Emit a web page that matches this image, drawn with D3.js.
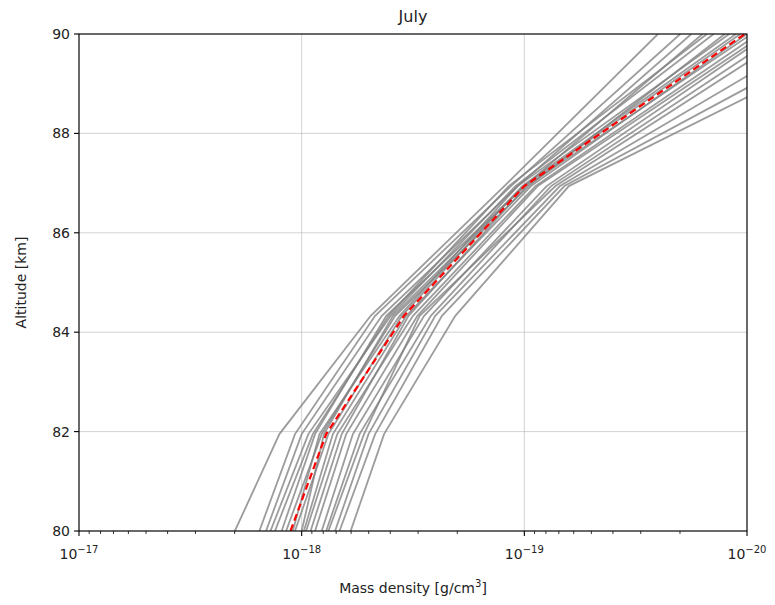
<!DOCTYPE html>
<html>
<head>
<meta charset="utf-8">
<script src="https://cdn.jsdelivr.net/npm/d3@7"></script>
<style>
  body { margin: 0; background: #fff; }
  svg { font-family: "DejaVu Sans", sans-serif; }
</style>
</head>
<body>
<svg id="chart" width="775" height="605"></svg>
<script>
// altitude levels of the profiles [km]
const altitudes = [80, 81.95, 84.33, 86.94, 90];
// log10 of mass density [g/cm3] at each altitude, one row per profile
const profiles = [
  [-17.70, -17.90, -18.31, -18.91, -19.60],
  [-17.81, -17.97, -18.33, -18.94, -19.70],
  [-17.84, -18.00, -18.36, -18.97, -19.75],
  [-17.86, -18.03, -18.40, -18.96, -19.85],
  [-17.88, -18.05, -18.39, -18.93, -19.82],
  [-17.91, -18.06, -18.38, -19.00, -19.80],
  [-17.93, -18.09, -18.42, -19.02, -19.90],
  [-17.96, -18.08, -18.44, -18.97, -19.92],
  [-17.97, -18.12, -18.45, -18.99, -19.95],
  [-18.00, -18.10, -18.41, -19.00, -19.97],
  [-18.01, -18.14, -18.47, -19.03, -20.00],
  [-18.02, -18.16, -18.50, -19.05, -20.05],
  [-18.04, -18.18, -18.48, -19.01, -20.02],
  [-18.06, -18.20, -18.52, -19.06, -20.08],
  [-18.09, -18.23, -18.55, -19.10, -20.10],
  [-18.11, -18.26, -18.58, -19.12, -20.15],
  [-18.12, -18.28, -18.53, -19.14, -20.20],
  [-18.15, -18.30, -18.60, -19.16, -20.32],
  [-18.17, -18.33, -18.63, -19.18, -20.45],
  [-18.22, -18.37, -18.69, -19.20, -20.57]
];
// mean profile (red dashed)
const meanProfile = [-17.95, -18.11, -18.46, -19.00, -19.99];
const xMajor = [1e-17, 1e-18, 1e-19, 1e-20];
const yTicks = [80, 82, 84, 86, 88, 90];

const svg = d3.select("#chart");
const margin = { top: 34, right: 28, bottom: 74, left: 79 };
const width = 775, height = 605;

const x = d3.scaleLog()
  .domain([1e-17, 1e-20])
  .range([margin.left, width - margin.right]);
const y = d3.scaleLinear()
  .domain([80, 90])
  .range([height - margin.bottom, margin.top]);

svg.append("defs").append("clipPath").attr("id", "clip")
  .append("rect")
  .attr("x", margin.left).attr("y", margin.top)
  .attr("width", width - margin.left - margin.right)
  .attr("height", height - margin.top - margin.bottom);

// grid
const grid = svg.append("g").attr("stroke", "#b0b0b0").attr("stroke-width", 0.8).attr("stroke-opacity", 0.7);
grid.selectAll(".gx").data(xMajor).join("line")
  .attr("x1", d => x(d)).attr("x2", d => x(d))
  .attr("y1", margin.top).attr("y2", height - margin.bottom);
grid.selectAll(".gy").data(yTicks).join("line")
  .attr("y1", d => y(d)).attr("y2", d => y(d))
  .attr("x1", margin.left).attr("x2", width - margin.right);

const line = d3.line()
  .x(d => x(Math.pow(10, d[1])))
  .y(d => y(d[0]));

const plot = svg.append("g").attr("clip-path", "url(#clip)");
plot.selectAll(".profile").data(profiles).join("path")
  .attr("fill", "none")
  .attr("stroke", "#808080")
  .attr("stroke-opacity", 0.78)
  .attr("stroke-width", 1.8)
  .attr("d", p => line(altitudes.map((a, i) => [a, p[i]])));

plot.append("path")
  .attr("fill", "none")
  .attr("stroke", "red")
  .attr("stroke-width", 2.2)
  .attr("stroke-dasharray", "7,4")
  .attr("d", line(altitudes.map((a, i) => [a, meanProfile[i]])));

// frame
svg.append("rect")
  .attr("x", margin.left).attr("y", margin.top)
  .attr("width", width - margin.left - margin.right)
  .attr("height", height - margin.top - margin.bottom)
  .attr("fill", "none").attr("stroke", "#000").attr("stroke-width", 1.1);

// x axis
const minor = x.ticks().filter(t => !xMajor.some(m => Math.abs(m - t) / m < 1e-6));
const xAxis = svg.append("g").attr("transform", `translate(0,${height - margin.bottom})`);
xAxis.selectAll(".major").data(xMajor).join("line")
  .attr("x1", d => x(d)).attr("x2", d => x(d))
  .attr("y1", 0).attr("y2", 5).attr("stroke", "#000").attr("stroke-width", 1.1);
xAxis.selectAll(".minor").data(minor).join("line")
  .attr("x1", d => x(d)).attr("x2", d => x(d))
  .attr("y1", 0).attr("y2", 3).attr("stroke", "#000").attr("stroke-width", 0.8);
const xl = xAxis.selectAll(".lab").data(xMajor).join("text")
  .attr("x", d => x(d)).attr("y", 28)
  .attr("text-anchor", "middle")
  .attr("font-size", 14).attr("fill", "#222");
xl.append("tspan").text("10");
xl.append("tspan").attr("dy", -6).attr("font-size", 10)
  .text(d => "\u2212" + Math.round(-Math.log10(d)));

// y axis
const yAxis = svg.append("g");
yAxis.selectAll("line").data(yTicks).join("line")
  .attr("x1", margin.left - 5).attr("x2", margin.left)
  .attr("y1", d => y(d)).attr("y2", d => y(d))
  .attr("stroke", "#000").attr("stroke-width", 1.1);
yAxis.selectAll("text").data(yTicks).join("text")
  .attr("x", margin.left - 9).attr("y", d => y(d))
  .attr("dy", "0.35em").attr("text-anchor", "end")
  .attr("font-size", 14).attr("fill", "#222")
  .text(d => d);

// labels
svg.append("text")
  .attr("x", (margin.left + width - margin.right) / 2).attr("y", 22)
  .attr("text-anchor", "middle").attr("font-size", 16).attr("fill", "#222")
  .text("July");

const xt = svg.append("text")
  .attr("x", (margin.left + width - margin.right) / 2).attr("y", 593)
  .attr("text-anchor", "middle").attr("font-size", 14).attr("fill", "#222");
xt.append("tspan").text("Mass density [g/cm");
xt.append("tspan").attr("dy", -6).attr("font-size", 10).text("3");
xt.append("tspan").attr("dy", 6).text("]");

svg.append("text")
  .attr("transform", `translate(26,${(margin.top + height - margin.bottom) / 2}) rotate(-90)`)
  .attr("text-anchor", "middle").attr("font-size", 14).attr("fill", "#222")
  .text("Altitude [km]");
</script>
</body>
</html>
